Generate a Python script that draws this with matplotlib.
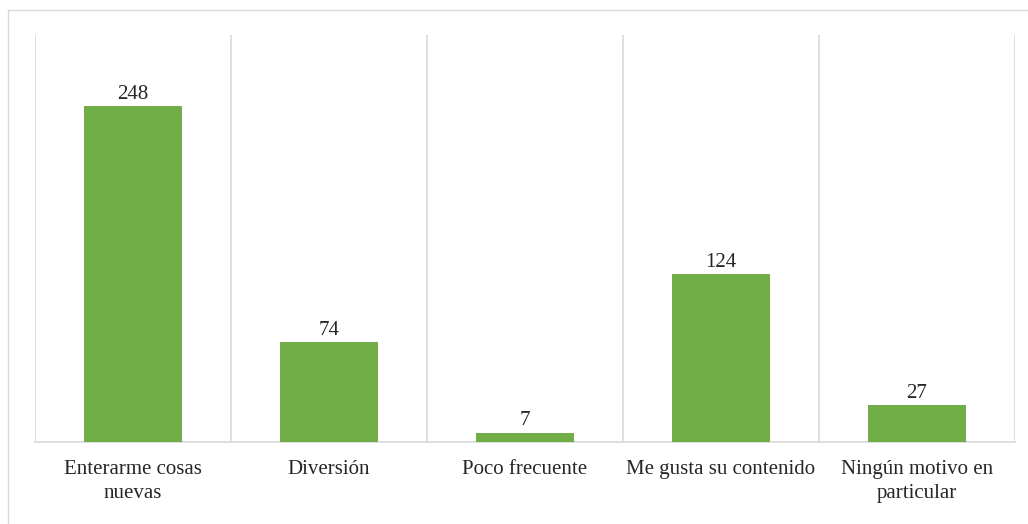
import matplotlib
matplotlib.use('Agg')
import matplotlib.pyplot as plt
from matplotlib.patches import Rectangle

categorias = ["Enterarme cosas\nnuevas", "Diversión", "Poco frecuente",
              "Me gusta su contenido", "Ningún motivo en\nparticular"]
valores = [248, 74, 7, 124, 27]

plt.rcParams['font.family'] = ['Liberation Serif', 'DejaVu Serif']

fig = plt.figure(figsize=(10.28, 5.24), dpi=100)
ax = fig.add_axes([35/1028, 82/524, 980/1028, 407/524])

x = list(range(len(valores)))
barras = ax.bar(x, valores, width=0.5, color='#70AD47', zorder=3)
for xi, v in zip(x, valores):
    ax.text(xi, v + 1.5, str(v), ha='center', va='bottom', fontsize=15, color='#262626')

ax.set_xlim(-0.5, len(valores) - 0.5)
ax.set_ylim(0, 300)
ax.set_yticks([])

# lineas verticales entre categorias
for b in [i - 0.5 for i in range(len(valores) + 1)]:
    ax.axvline(b, color='#d9d9d9', lw=1.2, zorder=1)

ax.set_xticks(x)
ax.set_xticklabels(categorias, fontsize=15, color='#262626', linespacing=1.35)
ax.tick_params(axis='x', length=0, pad=13)
for s in ['top', 'right', 'left']:
    ax.spines[s].set_visible(False)
ax.spines['bottom'].set_color('#d9d9d9')
ax.spines['bottom'].set_linewidth(1.2)

# borde de la figura
fig.patches.append(Rectangle((8/1028, -0.1), 1.2, (514/524) + 0.1, transform=fig.transFigure,
                             fill=False, edgecolor='#d9d9d9', lw=1))

fig.savefig('out.png', dpi=100)
